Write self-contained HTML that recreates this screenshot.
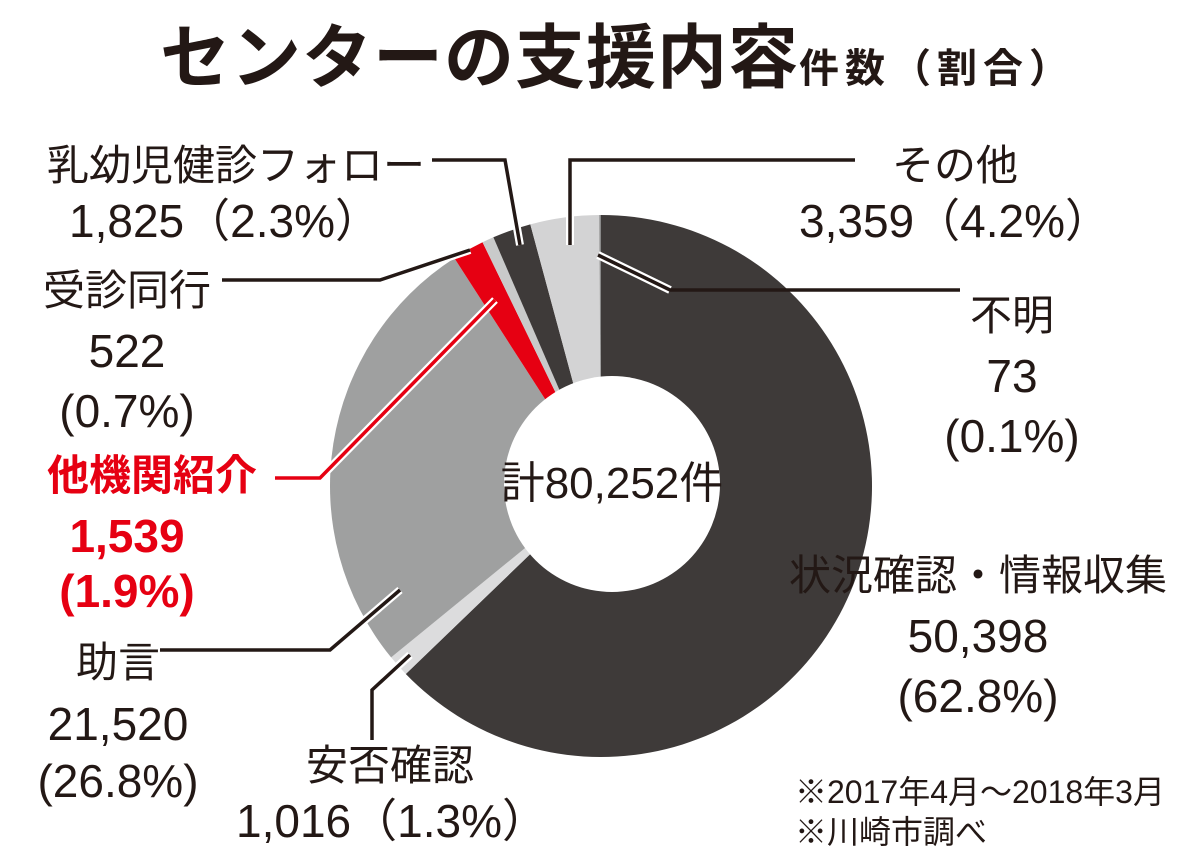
<!DOCTYPE html><html><head><meta charset="utf-8"><style>
body{margin:0;width:1200px;height:862px;background:#fff;overflow:hidden}
svg text{font-family:"Liberation Sans","Noto Sans CJK JP",sans-serif;fill:#231815}
</style></head><body>
<svg id="s" width="1200" height="862" xmlns="http://www.w3.org/2000/svg">
<g id="pie"></g>
<circle cx="612" cy="484" r="108" fill="#fff"/>
<g fill="none" stroke-linejoin="miter">
<g stroke="#fff" stroke-width="8">
<polyline points="520,245 505,160"/><polyline points="570,245 570,160"/>
<polyline points="470,250 380,280"/><polyline points="598,255 670,290"/>
<polyline points="495,300 320,478"/><polyline points="400,590 330,650"/>
<polyline points="410,655 372,690"/>
</g>
<polyline points="432,160 505,160 520,245" stroke="#231815" stroke-width="3.5"/>
<polyline points="855,160 570,160 570,245" stroke="#231815" stroke-width="3.5"/>
<polyline points="222,280 380,280 470,250" stroke="#231815" stroke-width="3.5"/>
<polyline points="960,290 670,290 598,255" stroke="#231815" stroke-width="3.5"/>
<polyline points="275,478 320,478 495,300" stroke="#e60012" stroke-width="3.5"/>
<polyline points="160,650 330,650 400,590" stroke="#231815" stroke-width="3.5"/>
<polyline points="372,740 372,690 410,655" stroke="#231815" stroke-width="3.5"/>
</g>
<text x="160" y="82" font-size="70" font-weight="bold" letter-spacing="1">センターの支援内容<tspan font-size="40" letter-spacing="6">件数（割合）</tspan></text>
<g font-size="42" text-anchor="middle">
<text x="236" y="180">乳幼児健診フォロー</text><text x="225" y="237" font-size="46">1,825（2.3%）</text>
<text x="955" y="180">その他</text><text x="955" y="237" font-size="46">3,359（4.2%）</text>
<text x="127" y="305">受診同行</text><text x="127" y="367" font-size="46">522</text><text x="127" y="427" font-size="46">(0.7%)</text>
<text x="1012" y="330">不明</text><text x="1012" y="392" font-size="46">73</text><text x="1012" y="452" font-size="46">(0.1%)</text>
<g font-weight="bold"><text x="152" y="490" style="fill:#e60012">他機関紹介</text><text x="127" y="552" font-size="46" style="fill:#e60012">1,539</text><text x="127" y="607" font-size="46" style="fill:#e60012">(1.9%)</text></g>
<text x="118" y="677">助言</text><text x="118" y="740" font-size="46">21,520</text><text x="118" y="797" font-size="46">(26.8%)</text>
<text x="978" y="590">状況確認・情報収集</text><text x="978" y="652" font-size="46">50,398</text><text x="978" y="712" font-size="46">(62.8%)</text>
<text x="390" y="780">安否確認</text><text x="392" y="837" font-size="46">1,016（1.3%）</text>
<text x="612" y="498" font-size="44">計80,252件</text>
</g>
<g font-size="32"><text x="795" y="803">※2017年4月〜2018年3月</text><text x="795" y="843">※川崎市調べ</text></g>
</svg>
<script>
var cx=601,cy=486,R=271;
var d=[[62.8,"#3e3a39"],[1.3,"#dcdcdd"],[26.8,"#9fa0a0"],[1.9,"#e60012"],[0.7,"#c9caca"],[2.3,"#3e3a39"],[4.1,"#d3d3d4"],[0.1,"#898989"]];
var a=0,g=document.getElementById("pie"),tot=0;d.forEach(function(x){tot+=x[0]});
function p(t){var r=t*Math.PI/180;return (cx+R*Math.sin(r)).toFixed(2)+","+(cy-R*Math.cos(r)).toFixed(2)}
d.forEach(function(x){var b=a+x[0]/tot*360;var e=document.createElementNS("http://www.w3.org/2000/svg","path");
e.setAttribute("d","M"+cx+","+cy+" L"+p(a)+" A"+R+","+R+" 0 "+(b-a>180?1:0)+" 1 "+p(b)+" Z");e.setAttribute("fill",x[1]);g.appendChild(e);a=b;});
</script>
</body></html>
